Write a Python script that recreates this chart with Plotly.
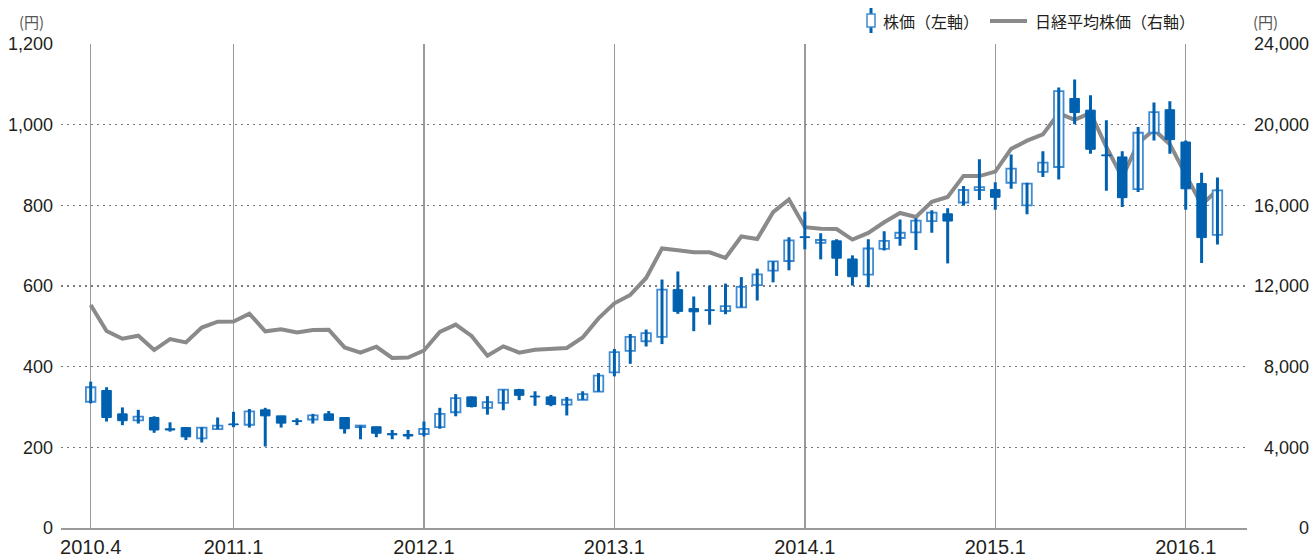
import plotly.graph_objects as go

# ---------------- data ----------------
months = [f"{y}.{m}" for y in range(2010, 2017) for m in range(1, 13)
          if (y, m) >= (2010, 4) and (y, m) <= (2016, 3)]

stock_open = [313, 341, 283, 267, 274, 246, 249, 222, 245,
              258, 256, 293, 278, 266, 269, 283, 274, 250, 251, 234, 232,
              233, 250, 287, 325, 298, 310, 343, 327, 325, 306, 318, 338,
              386, 439, 463, 474, 591, 544, 541, 538, 547, 602, 638, 662,
              722, 707, 712, 667, 628, 692, 719, 733, 761, 779, 807, 838,
              839, 856, 800, 883, 895, 1065, 1036, 925, 920, 840, 980, 1037,
              957, 854, 727]
stock_high = [363, 349, 299, 293, 277, 262, 249, 250, 274,
              288, 295, 298, 278, 272, 283, 290, 275, 254, 251, 243, 243,
              264, 298, 332, 326, 327, 343, 345, 339, 330, 325, 339, 384,
              444, 481, 492, 616, 636, 574, 601, 606, 622, 643, 661, 721,
              784, 731, 716, 676, 716, 736, 765, 768, 788, 793, 848, 914,
              857, 926, 856, 934, 1092, 1112, 1073, 1011, 934, 994, 1055, 1058,
              961, 881, 869]
stock_low = [309, 264, 255, 259, 236, 239, 218, 212, 245,
             250, 249, 202, 249, 255, 259, 266, 234, 220, 225, 220, 220,
             227, 246, 277, 299, 281, 292, 317, 303, 302, 279, 318, 338,
             376, 407, 450, 456, 531, 488, 504, 530, 547, 564, 609, 639,
             691, 666, 625, 601, 597, 688, 700, 689, 732, 656, 799, 813,
             789, 841, 778, 870, 864, 1001, 928, 836, 796, 833, 961, 928,
             789, 657, 703]
stock_close = [349, 274, 266, 276, 243, 243, 226, 249, 254,
               256, 289, 278, 260, 264, 279, 267, 246, 254, 235, 231, 228,
               246, 283, 322, 301, 312, 343, 329, 325, 306, 318, 332, 378,
               436, 474, 483, 591, 537, 536, 539, 550, 598, 629, 661, 713,
               720, 714, 669, 623, 693, 712, 732, 762, 782, 761, 838, 845,
               820, 891, 854, 906, 1083, 1030, 939, 923, 819, 980, 1031, 963,
               841, 720, 837]
nikkei = [11057, 9769, 9383, 9537, 8824, 9369, 9202, 9937, 10229,
          10237, 10624, 9755, 9849, 9693, 9816, 9833, 8955, 8700, 8988, 8434, 8455,
          8803, 9723, 10084, 9521, 8543, 9007, 8695, 8840, 8870, 8928, 9446, 10395,
          11139, 11559, 12398, 13861, 13775, 13677, 13668, 13389, 14456, 14328, 15662, 16291,
          14915, 14841, 14828, 14304, 14632, 15162, 15621, 15425, 16174, 16414, 17460, 17451,
          17674, 18798, 19207, 19520, 20563, 20236, 20586, 18890, 17388, 19083, 19747, 19034,
          17518, 16027, 16759]
x_ticks = ["2010.4", "2011.1", "2012.1", "2013.1", "2014.1", "2015.1", "2016.1"]
left_ticks = [0, 200, 400, 600, 800, 1000, 1200]
right_ticks = [0, 4000, 8000, 12000, 16000, 20000, 24000]

# ---------------- styles ----------------
BLUE = "#0061b0"
BLUE_LIGHT = "#3f8ad0"
GRAY_LINE = "#8a8a8a"
TXT = "#231f20"
FONT = "Liberation Sans, Arial, sans-serif"
JFONT = "Noto Sans CJK JP, sans-serif"

W, H = 1313, 559
ML, MR = 61, 2                     # paper extents
L, R, T, B = 61, 1246.5, 44, 528   # plot area
PW = W - ML - MR


def px(xp):
    return (xp - ML) / PW


def py(yp):
    return (B - yp) / (B - T)


fig = go.Figure()

# Nikkei line (base axis, labels at right)
fig.add_trace(go.Scatter(x=months, y=nikkei, mode="lines",
                         line=dict(color=GRAY_LINE, width=4),
                         yaxis="y", hoverinfo="skip", showlegend=False))

# wicks
wx, wy = [], []
for m, lo, hi in zip(months, stock_low, stock_high):
    wx += [m, m, None]
    wy += [lo, hi, None]
fig.add_trace(go.Scatter(x=wx, y=wy, mode="lines",
                         line=dict(color=BLUE, width=3),
                         yaxis="y2", hoverinfo="skip", showlegend=False))

# bodies
up_x, up_base, up_h = [], [], []
dn_x, dn_base, dn_h = [], [], []
for m, o, c in zip(months, stock_open, stock_close):
    if c >= o:
        up_x.append(m); up_base.append(o); up_h.append(c - o)
    else:
        dn_x.append(m); dn_base.append(c); dn_h.append(o - c)

fig.add_trace(go.Bar(x=dn_x, y=dn_h, base=dn_base, width=0.6,
                     marker=dict(color=BLUE, line=dict(color=BLUE, width=1)),
                     yaxis="y2", showlegend=False))
fig.add_trace(go.Bar(x=up_x, y=up_h, base=up_base, width=0.6,
                     marker=dict(color="white", line=dict(color=BLUE_LIGHT, width=1.8)),
                     yaxis="y2", showlegend=False))

tick_font_y = dict(family=FONT, size=18, color=TXT)
grid_dash = "2px,4px"
fig.update_layout(
    width=W, height=H,
    margin=dict(l=ML, r=MR, t=T, b=H - B, pad=0),
    paper_bgcolor="white", plot_bgcolor="white",
    barmode="overlay",
    font=dict(family=FONT, size=18, color=TXT),
    xaxis=dict(type="category", categoryorder="array", categoryarray=months,
               domain=[0, (R - ML) / PW],
               range=[-1.87, 72.83], tickmode="array", tickvals=x_ticks,
               ticktext=x_ticks, showgrid=True, gridcolor="#9a9a9a", gridwidth=1.5,
               showline=True, linecolor="#9a9a9a", linewidth=1.5, ticks="",
               ticklabelstandoff=0, zeroline=False, automargin=False,
               tickfont=dict(family=FONT, size=20, color=TXT)),
    yaxis=dict(side="left", anchor="free", position=1.0,
               range=[0, 24000], tickmode="array", tickvals=right_ticks,
               tickformat=",d", showgrid=True,
               gridcolor="#7a7a7a", gridwidth=1.2, griddash=grid_dash,
               zeroline=False, showline=False, ticks="", ticklabelstandoff=2,
               automargin=False, tickfont=tick_font_y),
    yaxis2=dict(side="left", overlaying="y", anchor="x", range=[0, 1200],
                tickmode="array", tickvals=left_ticks, tickformat=",d",
                showgrid=False, zeroline=False, showline=False, ticks="",
                ticklabelstandoff=7, automargin=False, tickfont=tick_font_y),
    showlegend=False,
)

# legend (manual)
shapes = [
    dict(type="line", xref="paper", yref="paper", x0=px(871), x1=px(871),
         y0=py(33), y1=py(8), line=dict(color=BLUE, width=3)),
    dict(type="rect", xref="paper", yref="paper", x0=px(867), x1=px(875),
         y0=py(27), y1=py(14), fillcolor="white", line=dict(color=BLUE_LIGHT, width=1.5)),
    dict(type="line", xref="paper", yref="paper", x0=px(990), x1=px(1027),
         y0=py(21), y1=py(21), line=dict(color=GRAY_LINE, width=4)),
]
fig.update_layout(shapes=shapes)

annots = [
    dict(text="株価（左軸）", x=px(881), y=py(21), xanchor="left", yanchor="middle",
         font=dict(family=JFONT, size=16, color=TXT)),
    dict(text="日経平均株価（右軸）", x=px(1033), y=py(21), xanchor="left", yanchor="middle",
         font=dict(family=JFONT, size=16, color=TXT)),
    dict(text="(円)", x=px(46), y=py(21), xanchor="right", yanchor="middle",
         font=dict(family=JFONT, size=15, color="#555")),
    dict(text="(円)", x=px(1251), y=py(21), xanchor="left", yanchor="middle",
         font=dict(family=JFONT, size=15, color="#555")),
]
for a in annots:
    a.update(xref="paper", yref="paper", showarrow=False)
fig.update_layout(annotations=annots)

fig.write_html("out.html",
               config={"displayModeBar": False, "staticPlot": True},
               post_script="document.body.style.margin='0';document.body.style.padding='0';")
